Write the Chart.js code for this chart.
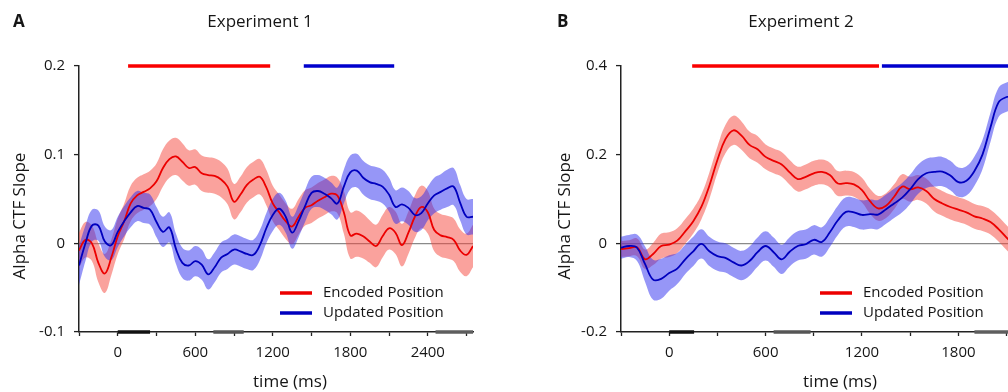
<!DOCTYPE html>
<html><head><meta charset="utf-8">
<script src="https://cdn.jsdelivr.net/npm/chart.js@4.4.0/dist/chart.umd.min.js"></script>
<style>
html,body{margin:0;padding:0;background:#fff;overflow:hidden;width:1008px;height:392px;}
#wrap{position:relative;width:1008px;height:392px;overflow:hidden;background:#fff;}
#cA{position:absolute;left:0;top:0;}
#cB{position:absolute;left:504px;top:0;}
</style></head><body>
<div id="wrap"><canvas id="cA" width="504" height="392"></canvas><canvas id="cB" width="660" height="392"></canvas></div>
<script>
// ---------- Experiment 1 (panel A) ----------
const timeA = [-300,-250,-200,-150,-100,-50,0,50,100,150,200,250,300,350,400,450,500,550,600,650,700,750,800,850,900,950,1000,1050,1100,1150,1200,1250,1300,1350,1400,1450,1500,1550,1600,1650,1700,1750,1800,1850,1900,1950,2000,2050,2100,2150,2200,2250,2300,2350,2400,2450,2500,2550,2600,2650,2700,2750];
const encodedA = [-0.008,0.004,0.0,-0.022,-0.034,-0.016,0.008,0.025,0.045,0.054,0.058,0.062,0.07,0.085,0.095,0.098,0.092,0.085,0.086,0.079,0.077,0.076,0.072,0.064,0.047,0.055,0.066,0.072,0.075,0.063,0.045,0.035,0.025,0.019,0.03,0.04,0.043,0.048,0.052,0.056,0.054,0.035,0.009,0.011,0.008,0.002,-0.003,0.008,0.017,0.012,-0.002,0.012,0.03,0.041,0.035,0.015,0.009,0.007,0.004,-0.008,-0.013,-0.003];
const encodedErrA = [0.02,0.02,0.02,0.022,0.022,0.02,0.02,0.02,0.02,0.02,0.02,0.02,0.02,0.021,0.021,0.021,0.021,0.02,0.02,0.02,0.02,0.02,0.02,0.02,0.02,0.02,0.02,0.02,0.02,0.02,0.02,0.02,0.02,0.02,0.02,0.02,0.02,0.02,0.02,0.02,0.02,0.024,0.026,0.026,0.025,0.024,0.024,0.024,0.024,0.024,0.024,0.024,0.024,0.024,0.024,0.024,0.024,0.024,0.024,0.024,0.024,0.024];
const updatedA = [-0.025,0.0,0.02,0.02,0.002,-0.002,0.013,0.025,0.035,0.042,0.04,0.038,0.024,0.013,0.018,-0.006,-0.022,-0.025,-0.02,-0.024,-0.035,-0.027,-0.016,-0.012,-0.007,-0.009,-0.012,-0.013,-0.002,0.017,0.032,0.039,0.03,0.012,0.025,0.042,0.057,0.059,0.056,0.051,0.045,0.064,0.08,0.082,0.074,0.069,0.067,0.064,0.055,0.041,0.044,0.04,0.032,0.034,0.045,0.054,0.058,0.062,0.064,0.046,0.03,0.03];
const updatedErrA = [0.022,0.02,0.018,0.017,0.017,0.017,0.017,0.017,0.017,0.017,0.017,0.017,0.017,0.017,0.017,0.017,0.017,0.017,0.017,0.017,0.017,0.017,0.017,0.017,0.017,0.017,0.017,0.017,0.017,0.017,0.018,0.018,0.018,0.018,0.018,0.018,0.018,0.018,0.018,0.018,0.018,0.019,0.019,0.019,0.019,0.019,0.019,0.019,0.019,0.019,0.019,0.019,0.019,0.019,0.019,0.02,0.02,0.021,0.021,0.02,0.02,0.02];
const sigEncodedA = [80, 1180];
const sigUpdatedA = [1440, 2140];
const eventsA = [[0, 250], [740, 975], [2460, 2750]];
const yTickValuesA = [-0.1, 0, 0.1, 0.2];

// ---------- Experiment 2 (panel B) ----------
const timeB = [-300,-250,-200,-150,-100,-50,0,50,100,150,200,250,300,350,400,450,500,550,600,650,700,750,800,850,900,950,1000,1050,1100,1150,1200,1250,1300,1350,1400,1450,1500,1550,1600,1650,1700,1750,1800,1850,1900,1950,2000,2050,2100,2150];
const encodedB = [-0.013,-0.011,-0.009,-0.036,-0.024,-0.006,-0.003,0.006,0.027,0.05,0.082,0.13,0.188,0.235,0.255,0.243,0.222,0.212,0.195,0.186,0.178,0.16,0.145,0.15,0.158,0.161,0.154,0.135,0.136,0.133,0.12,0.095,0.079,0.085,0.105,0.128,0.122,0.126,0.118,0.1,0.09,0.082,0.076,0.07,0.061,0.056,0.048,0.032,0.013,-0.005];
const encodedErrB = [0.018,0.018,0.02,0.022,0.025,0.028,0.028,0.028,0.028,0.028,0.028,0.03,0.03,0.032,0.033,0.032,0.03,0.03,0.028,0.028,0.028,0.028,0.028,0.028,0.028,0.028,0.028,0.028,0.028,0.028,0.028,0.028,0.028,0.028,0.028,0.028,0.028,0.028,0.028,0.028,0.028,0.028,0.028,0.028,0.028,0.028,0.028,0.028,0.028,0.028];
const updatedB = [-0.01,-0.006,-0.01,-0.047,-0.082,-0.08,-0.067,-0.057,-0.036,-0.018,-0.001,-0.018,-0.029,-0.033,-0.043,-0.05,-0.04,-0.02,-0.006,-0.02,-0.036,-0.019,-0.006,-0.002,0.008,0.003,0.025,0.052,0.071,0.07,0.064,0.066,0.065,0.077,0.09,0.103,0.122,0.145,0.158,0.161,0.162,0.153,0.138,0.141,0.163,0.2,0.262,0.318,0.33,0.332];
const updatedErrB = [0.025,0.025,0.03,0.04,0.045,0.045,0.04,0.035,0.033,0.033,0.033,0.033,0.033,0.033,0.033,0.033,0.033,0.033,0.033,0.033,0.033,0.033,0.033,0.033,0.033,0.033,0.033,0.033,0.033,0.033,0.033,0.033,0.033,0.033,0.033,0.033,0.033,0.033,0.033,0.033,0.033,0.033,0.033,0.033,0.033,0.033,0.033,0.033,0.033,0.033];
const sigEncodedB = [143, 1306];
const sigUpdatedB = [1324, 2400];
const eventsB = [[0, 155], [650, 880], [1900, 2150]];
const yTickValuesB = [-0.2, 0, 0.2, 0.4];

const xRange = [-300, 2750];
const xTickValues = [-300, 0, 300, 600, 900, 1200, 1500, 1800, 2100, 2400, 2700];
const xLabelledTicks = [0, 600, 1200, 1800, 2400];
const seriesNames = ['Encoded Position', 'Updated Position'];

const FONT = '"Open Sans", "DejaVu Sans", sans-serif';
const TXT = '#151515';
const RED = 'rgb(236,0,0)', BLUE = 'rgb(0,0,190)';
const RED_BAND = 'rgba(245,70,60,0.5)', BLUE_BAND = 'rgba(45,45,240,0.5)';
const EVENT_COLORS = ['#111111', '#555555', '#5e5e5e'];

function pts(t, v) { return t.map((x, i) => ({x: x, y: v[i]})); }
function bandPts(t, v, e, s) { return t.map((x, i) => ({x: x, y: v[i] + s * e[i]})); }

function makePanel(id, cfg) {
  const yMin = cfg.yTicks[0], yMax = cfg.yTicks[cfg.yTicks.length - 1];
  const ds = [
    {data: pts(cfg.time, cfg.enc), borderColor: RED, borderWidth: 1.8, tension: 0.4, order: 2},
    {data: pts(cfg.time, cfg.upd), borderColor: BLUE, borderWidth: 1.8, tension: 0.4, order: 1},
    {data: bandPts(cfg.time, cfg.enc, cfg.encErr, 1), borderWidth: 0, borderColor: 'rgba(0,0,0,0)', backgroundColor: RED_BAND, fill: '+1', tension: 0.4, order: 6},
    {data: bandPts(cfg.time, cfg.enc, cfg.encErr, -1), borderWidth: 0, borderColor: 'rgba(0,0,0,0)', fill: false, tension: 0.4, order: 7},
    {data: bandPts(cfg.time, cfg.upd, cfg.updErr, 1), borderWidth: 0, borderColor: 'rgba(0,0,0,0)', backgroundColor: BLUE_BAND, fill: '+1', tension: 0.4, order: 4},
    {data: bandPts(cfg.time, cfg.upd, cfg.updErr, -1), borderWidth: 0, borderColor: 'rgba(0,0,0,0)', fill: false, tension: 0.4, order: 5},
    {data: [{x: cfg.sigEnc[0], y: yMax}, {x: cfg.sigEnc[1], y: yMax}], borderColor: 'rgb(250,0,0)', borderWidth: 3.5, clip: false, order: 0},
    {data: [{x: cfg.sigUpd[0], y: yMax}, {x: cfg.sigUpd[1], y: yMax}], borderColor: 'rgb(0,0,205)', borderWidth: 3.5, clip: false, order: 0}
  ];
  cfg.events.forEach((ev, k) => {
    ds.push({data: [{x: ev[0], y: yMin}, {x: ev[1], y: yMin}], borderColor: EVENT_COLORS[k], borderWidth: 3.5, clip: false, order: 0});
  });

  const textPlugin = {
    id: 'texts',
    afterDraw(chart) {
      const c = chart.ctx;
      c.save();
      c.fillStyle = TXT;
      c.textBaseline = 'middle';
      c.font = 'bold 17px ' + FONT;
      c.textAlign = 'left';
      c.fillText(cfg.letter, cfg.letterX, 22);
      c.font = '17px ' + FONT;
      c.textAlign = 'center';
      c.fillText(cfg.title, cfg.titleX, 22);
      c.fillText('time (ms)', cfg.xTitleX, 382);
      c.save();
      c.translate(cfg.yTitleX, 216);
      c.rotate(-Math.PI / 2);
      c.fillText('Alpha CTF Slope', 0, 0);
      c.restore();
      // legend
      c.font = '15px ' + FONT;
      c.textAlign = 'left';
      const cols = [RED, BLUE];
      [293, 313].forEach((yy, i) => {
        c.strokeStyle = cols[i];
        c.lineWidth = 3.5;
        c.beginPath();
        c.moveTo(cfg.legX, yy);
        c.lineTo(cfg.legX + 32, yy);
        c.stroke();
        c.fillText(seriesNames[i], cfg.legX + 43, yy);
      });
      c.restore();
    }
  };

  return new Chart(document.getElementById(id), {
    type: 'line',
    data: {datasets: ds},
    options: {
      responsive: false,
      animation: false,
      devicePixelRatio: 1,
      layout: {padding: {left: 0, top: 66, right: cfg.padR, bottom: 0}},
      elements: {point: {radius: 0}, line: {borderCapStyle: 'butt'}},
      plugins: {legend: {display: false}, tooltip: {enabled: false}},
      scales: {
        x: {
          type: 'linear', min: xRange[0], max: xRange[1],
          afterBuildTicks: s => { s.ticks = xTickValues.map(v => ({value: v})); },
          ticks: {autoSkip: false, maxRotation: 0, minRotation: 0, color: TXT, padding: 8,
                  font: {family: FONT, size: 15},
                  callback: v => (xLabelledTicks.includes(Math.round(v)) ? String(Math.round(v)) : '')},
          grid: {drawOnChartArea: false, drawTicks: true, tickLength: 4, tickColor: '#222', tickWidth: 1.3},
          border: {display: true, color: '#222', width: 1.5},
          afterFit: s => { s.height = 60; }
        },
        y: {
          min: yMin, max: yMax,
          afterBuildTicks: s => { s.ticks = cfg.yTicks.map(v => ({value: v})); },
          ticks: {color: TXT, padding: 9,
                  font: {family: FONT, size: 15},
                  callback: v => String(Math.round(v * 100) / 100)},
          grid: {drawOnChartArea: true, drawTicks: true, tickLength: 5, tickColor: '#222', tickWidth: 1.3,
                 color: ctx => (ctx.tick && Math.abs(ctx.tick.value) < 1e-9 ? '#8a8a8a' : 'rgba(0,0,0,0)'), lineWidth: 1.2},
          border: {display: true, color: '#222', width: 1.5},
          afterFit: s => { s.width = cfg.yW; }
        }
      }
    },
    plugins: [textPlugin]
  });
}

makePanel('cA', {
  time: timeA, enc: encodedA, encErr: encodedErrA, upd: updatedA, updErr: updatedErrA,
  sigEnc: sigEncodedA, sigUpd: sigUpdatedA, events: eventsA, yTicks: yTickValuesA,
  letter: 'A', title: 'Experiment 1', letterX: 13, titleX: 260, xTitleX: 290, yTitleX: 20,
  legX: 280, yW: 79, padR: 31
});
makePanel('cB', {
  time: timeB, enc: encodedB, encErr: encodedErrB, upd: updatedB, updErr: updatedErrB,
  sigEnc: sigEncodedB, sigUpd: sigUpdatedB, events: eventsB, yTicks: yTickValuesB,
  letter: 'B', title: 'Experiment 2', letterX: 53, titleX: 297, xTitleX: 336, yTitleX: 61,
  legX: 316, yW: 117, padR: 53
});
</script>
</body></html>
